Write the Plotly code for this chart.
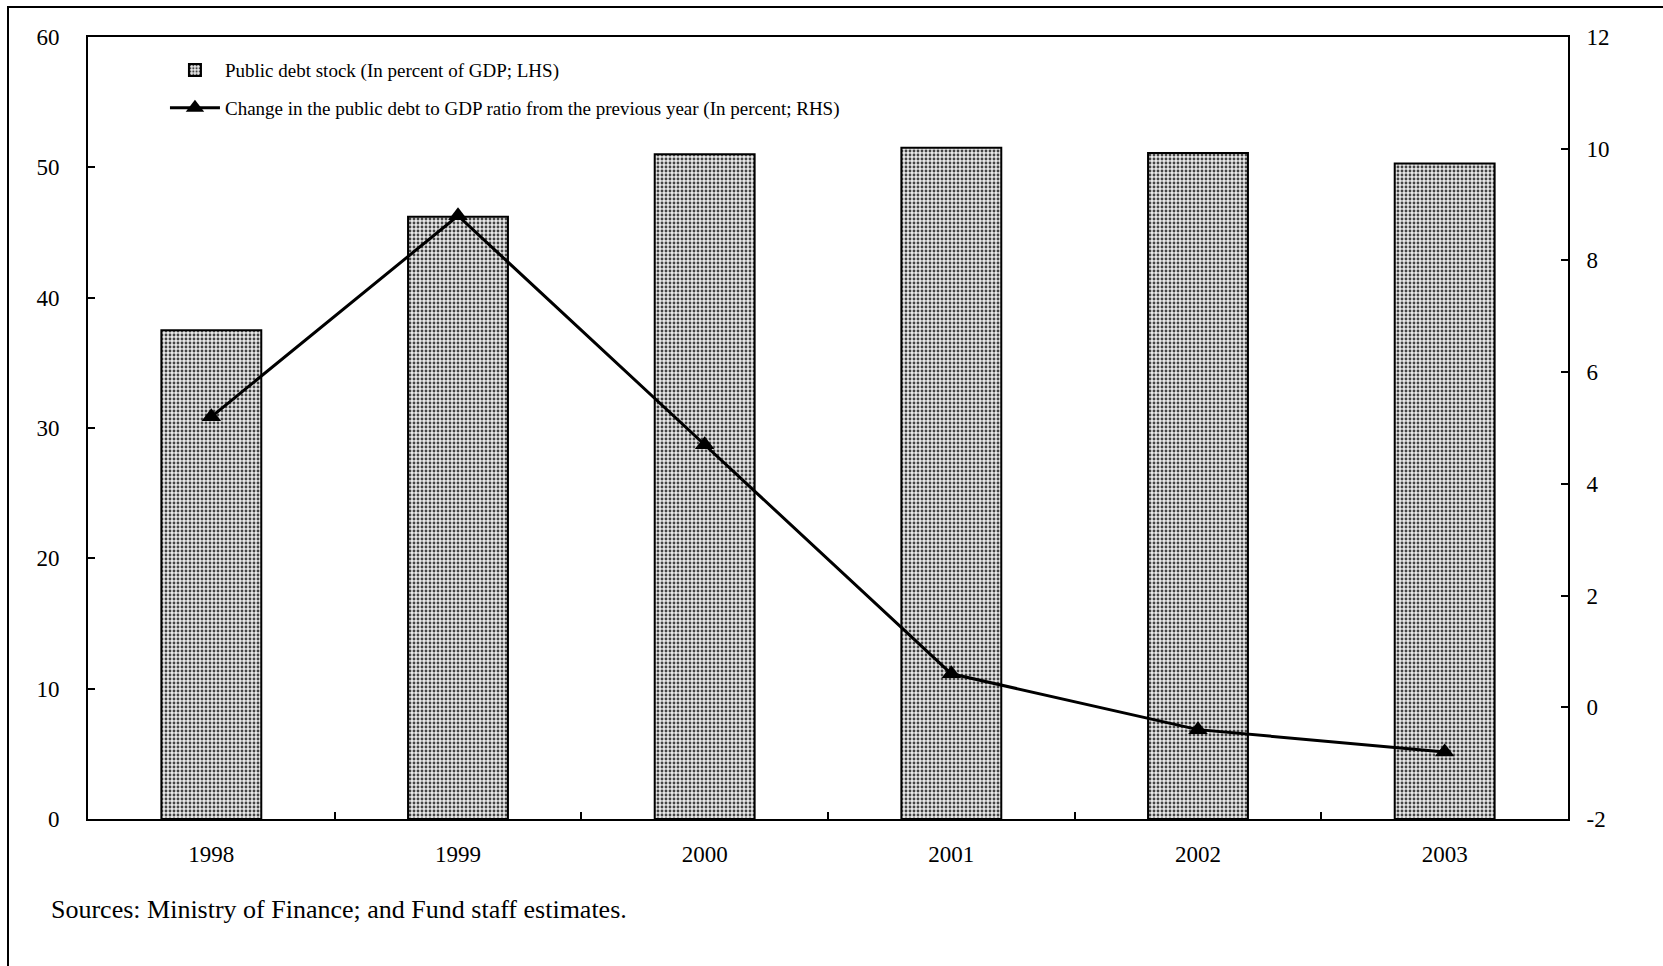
import plotly.graph_objects as go

years = ["1998", "1999", "2000", "2001", "2002", "2003"]
debt_stock = [37.5, 46.2, 51.0, 51.5, 51.1, 50.3]
debt_change = [5.2, 8.8, 4.7, 0.6, -0.4, -0.8]

left_ticks = [0, 10, 20, 30, 40, 50, 60]
right_ticks = [-2, 0, 2, 4, 6, 8, 10, 12]
right_ticktext = ["-2", "0", "2", "4", "6", "8", "10", "12"]

SERIF = "Liberation Serif, Times New Roman, serif"
TICK_FONT = dict(family=SERIF, size=23, color="black")

fig = go.Figure()

fig.add_trace(go.Bar(
    x=years, y=debt_stock,
    name="Public debt stock (In percent of GDP; LHS)",
    legendgroup="stock",
    width=0.405,
    marker=dict(
        color="#e6e6e6",
        line=dict(color="black", width=2),
        pattern=dict(shape=".", size=4, solidity=0.4,
                     fgcolor="#444444", bgcolor="#e8e8e8", fillmode="replace"),
    ),
    yaxis="y",
))

fig.add_trace(go.Scatter(
    x=years, y=debt_change,
    name="Change in the public debt to GDP ratio from the previous year (In percent; RHS)",
    legendgroup="change",
    mode="lines+markers",
    line=dict(color="black", width=3),
    marker=dict(symbol="triangle-up", size=17, color="black"),
    yaxis="y2",
))

# page border (left and top edges visible)
fig.add_shape(type="rect", xref="paper", yref="paper",
              x0=(8 - 88) / 1480, x1=(1675 - 88) / 1480,
              y0=(819 - 975) / 782, y1=1 + (37 - 7) / 782,
              line=dict(color="black", width=2), layer="below")

fig.add_annotation(
    text="Sources: Ministry of Finance; and Fund staff estimates.",
    xref="paper", yref="paper",
    x=(49 - 88) / 1480, y=(819 - 909) / 782,
    xanchor="left", yanchor="middle", showarrow=False,
    font=dict(family=SERIF, size=26, color="black"),
)

fig.update_layout(
    width=1663, height=966,
    margin=dict(l=88, r=95, t=37, b=147),
    paper_bgcolor="white", plot_bgcolor="white",
    font=dict(family=SERIF, color="black"),
    bargap=0.6,
    showlegend=True,
    legend=dict(
        x=0.052, y=0.982, xanchor="left", yanchor="top",
        font=dict(family=SERIF, size=19, color="black"),
        bgcolor="rgba(0,0,0,0)", tracegroupgap=10, itemwidth=50,
    ),
    xaxis=dict(
        type="category", range=[-0.5, 5.5],
        showline=True, linecolor="black", linewidth=2, mirror=True,
        ticks="inside", tickson="boundaries", ticklen=7, tickwidth=2, tickcolor="black",
        tickfont=TICK_FONT, ticklabelstandoff=13,
        showgrid=False, zeroline=False,
    ),
    yaxis=dict(
        range=[0, 60], tickvals=left_ticks,
        showline=True, linecolor="black", linewidth=2,
        ticks="inside", ticklen=7, tickwidth=2, tickcolor="black",
        tickfont=TICK_FONT, ticklabelstandoff=22,
        showgrid=False, zeroline=False,
    ),
    yaxis2=dict(
        range=[-2, 12], tickvals=right_ticks, ticktext=right_ticktext,
        overlaying="y", side="right",
        showline=True, linecolor="black", linewidth=2,
        ticks="inside", ticklen=7, tickwidth=2, tickcolor="black",
        tickfont=TICK_FONT, ticklabelstandoff=12,
        showgrid=False, zeroline=False,
    ),
)

fig.write_html("out.html")
